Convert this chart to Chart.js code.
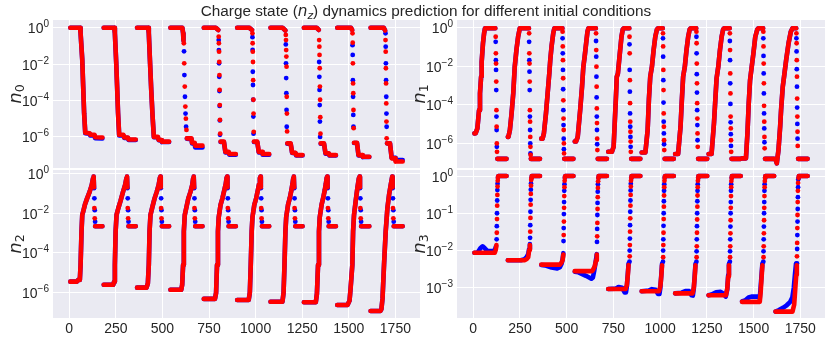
<!DOCTYPE html>
<html>
<head>
<meta charset="utf-8">
<script src="https://cdn.jsdelivr.net/npm/chart.js@4.4.1/dist/chart.umd.min.js"></script>
<style>
  body { margin: 0; width: 830px; height: 340px; background: #fff; position: relative; overflow: hidden;
         font-family: "Liberation Sans", Arial, sans-serif; color: #262626; }
  canvas { position: absolute; z-index: 1; }
  .title { position: absolute; left: 426px; top: 11px; transform: translate(-50%, -50%);
           font-size: 15.3px; white-space: nowrap; z-index: 2; }
  .ylab { position: absolute; transform: translate(-50%, -50%) rotate(-90deg); font-size: 18px;
          white-space: nowrap; font-family: "DejaVu Sans"; z-index: 2; }
  .m { font-family: "DejaVu Sans"; font-style: italic; }
  .sb { font-size: 0.7em; position: relative; top: 0.25em; }
</style>
</head>
<body>
<div class="title">Charge state (<span class="m">n</span><span class="m sb">z</span>) dynamics prediction for different initial conditions</div>
<div class="ylab" style="left:14px;top:94px"><span class="m">n</span><span class="sb">0</span></div>
<div class="ylab" style="left:418px;top:94px"><span class="m">n</span><span class="sb">1</span></div>
<div class="ylab" style="left:14px;top:244px"><span class="m">n</span><span class="sb">2</span></div>
<div class="ylab" style="left:418px;top:244px"><span class="m">n</span><span class="sb">3</span></div>
<canvas id="p0" width="425" height="162" style="left:0;top:10px"></canvas>
<canvas id="p1" width="425" height="162" style="left:405px;top:10px"></canvas>
<canvas id="p2" width="425" height="180" style="left:0;top:160px"></canvas>
<canvas id="p3" width="425" height="180" style="left:405px;top:160px"></canvas>
<script>
// x position where each of the 10 runs starts, every run is [t, value] with t relative to that start
const segStarts = [6, 185, 364, 543, 722, 901, 1080, 1259, 1438, 1617];
const xTicks = [0, 250, 500, 750, 1000, 1250, 1500, 1750];
const yTicksWide = [1, 1e-2, 1e-4, 1e-6];
const yTicksN3 = [1, 1e-1, 1e-2, 1e-3];

// ---- n0 ----
const n0RedPre = [
  [[0,1],[52,1],[55,0.5],[64,0.017],[69,5.8e-4],[74,2e-5],[80,1.7e-6]],
  [[0,1],[57,1],[60,0.5],[67,0.013],[72,5.8e-4],[77,2e-5],[83,1.3e-6]],
  [[0,1],[60,1],[63,0.5],[70,0.01],[76,4e-4],[83,1.5e-5],[90,1e-6]],
  [[0,1],[64,1],[68,0.5],[70,0.2]],
  [[0,1],[64,1],[78,0.75]],
  [[0,1],[64,1],[80,0.75]],
  [[0,1],[64,1],[80,0.7]],
  [[0,1],[68,1],[80,0.75]],
  [[0,1],[73,1],[80,0.75]],
  [[0,1],[70,1],[78,0.7]]
];
const n0RedDots = [
  [], [], [],
  [[72,0.14],[74,0.011],[77,5.8e-4],[80,4.6e-5],[83,1e-5],[86,2.4e-6]],
  [[80,0.32],[81,0.14],[82,0.048],[83,0.013],[84,2.5e-3],[85,3.8e-4],[86,5.6e-5],[87,8.5e-6],[88,1.5e-6]],
  [[82,0.49],[83,0.14],[84,0.048],[85,0.013],[86,1.3e-3],[87,1.1e-4],[88,1.9e-5],[89,1.9e-6]],
  [[82,0.4],[83,0.21],[84,0.059],[85,0.026],[86,7.2e-3],[87,1.6e-4],[88,1.9e-5],[89,2e-6]],
  [[82,0.21],[83,0.091],[84,0.032],[85,5.9e-3],[86,5.8e-4],[87,1.1e-4],[88,1.2e-5],[89,1.5e-6]],
  [[82,0.49],[83,0.15],[84,0.011],[85,8.7e-4],[86,2.5e-4],[87,3e-5],[88,3e-6]],
  [[80,0.21],[81,0.048],[82,5.9e-3],[83,8.7e-4],[84,6.9e-5],[85,6.9e-6],[86,8.3e-7]]
];
const n0RedPost = [
  [[80,1.7e-6],[104,1.6e-6],[107,1.3e-6],[130,1.3e-6],[133,9.5e-7],[172,9.3e-7]],
  [[83,1.3e-6],[106,1.3e-6],[110,9.3e-7],[130,9.3e-7],[133,7.2e-7],[172,7.2e-7]],
  [[90,1e-6],[112,1e-6],[116,6.8e-7],[130,6.8e-7],[133,5.5e-7],[172,5.5e-7]],
  [[88,8.3e-7],[113,8.3e-7],[116,4.8e-7],[130,4.8e-7],[133,3.3e-7],[172,3.3e-7]],
  [[90,5.5e-7],[108,5.5e-7],[116,1.5e-7],[134,1.5e-7],[137,1.15e-7],[172,1.15e-7]],
  [[90,5.5e-7],[108,5.5e-7],[116,1.5e-7],[134,1.5e-7],[137,1.15e-7],[172,1.15e-7]],
  [[90,4.4e-7],[108,4.4e-7],[116,1.35e-7],[134,1.35e-7],[137,1e-7],[172,1e-7]],
  [[90,4.4e-7],[108,4.4e-7],[116,1.26e-7],[134,1.26e-7],[137,1e-7],[172,1e-7]],
  [[90,4.8e-7],[106,4.8e-7],[114,1e-7],[134,1e-7],[137,8.1e-8],[172,8.1e-8]],
  [[88,4.4e-7],[104,4.4e-7],[113,6.6e-8],[131,6.6e-8],[134,4.4e-8],[172,4.4e-8]]
];
const n0BluePre = n0RedPre;
const n0BlueDots = [
  [], [], [],
  [[73,0.05],[75,2.5e-3],[78,1.6e-4],[81,1.9e-5],[84,3.6e-6]],
  [[80,0.21],[81,0.059],[82,0.011],[83,2e-3],[84,3.3e-4],[85,5e-5],[86,8e-6],[87,1.3e-6]],
  [[82,0.3],[83,0.06],[84,3.8e-3],[85,7.1e-4],[86,1.1e-4],[87,1.3e-5],[88,1.5e-6]],
  [[82,0.12],[83,0.011],[84,1.7e-3],[85,2.5e-4],[86,3e-5],[87,3.6e-6]],
  [[82,0.013],[83,2e-3],[84,3.8e-4],[85,5.6e-5],[86,6.9e-6],[87,1e-6]],
  [[82,0.11],[83,0.032],[84,1.3e-3],[85,1.6e-4],[86,1.6e-5],[87,3.6e-6]],
  [[80,0.49],[81,0.091],[82,0.011],[83,1.3e-3],[84,1.6e-4],[85,1.9e-5],[86,3.6e-6]]
];
const n0BluePost = [
  [[80,1.6e-6],[104,1.5e-6],[107,1.2e-6],[130,1.2e-6],[133,8.5e-7],[172,8.3e-7]],
  [[83,1.2e-6],[106,1.2e-6],[110,8.8e-7],[130,8.8e-7],[133,6.8e-7],[172,6.8e-7]],
  [[90,9.5e-7],[112,9.5e-7],[116,6.5e-7],[130,6.5e-7],[133,5.2e-7],[172,5.2e-7]],
  [[88,8e-7],[113,7.5e-7],[116,4.4e-7],[130,4.4e-7],[133,2.6e-7],[172,2.6e-7]],
  [[90,5.2e-7],[108,5.2e-7],[116,1.4e-7],[134,1.4e-7],[137,1.05e-7],[172,1.05e-7]],
  [[90,5.2e-7],[108,5.2e-7],[116,1.4e-7],[134,1.4e-7],[137,1.05e-7],[172,1.05e-7]],
  [[90,4.2e-7],[108,4.2e-7],[116,1.3e-7],[134,1.3e-7],[137,9.5e-8],[172,9.5e-8]],
  [[90,4.2e-7],[108,4.2e-7],[116,1.2e-7],[134,1.2e-7],[137,9.5e-8],[172,9.5e-8]],
  [[90,4.6e-7],[106,4.6e-7],[114,9.5e-8],[134,9.5e-8],[137,7.8e-8],[172,7.8e-8]],
  [[88,4.4e-7],[104,4.4e-7],[113,7e-8],[131,7e-8],[134,5.4e-8],[172,5.4e-8]]
];

// ---- n1 ----
const n1RedPre = [
  [[0,3.2e-6],[7,3.3e-6],[16,5.8e-6],[25,5.2e-5],[30,3.9e-4],[36,2.9e-3],[39,0.017],[46,0.16],[52,0.53],[57,0.97],[112,0.97]],
  [[0,2.1e-6],[3,2.1e-6],[11,4.8e-6],[20,3.5e-5],[29,3.9e-4],[37,9.6e-3],[46,0.071],[55,0.35],[64,0.97],[113,0.97]],
  [[0,1.7e-6],[7,1.7e-6],[14,3.2e-6],[25,3.5e-5],[34,3.9e-4],[43,4.5e-3],[48,0.021],[55,0.11],[64,0.53],[70,0.97],[113,0.97]],
  [[0,1.2e-6],[7,1.2e-6],[16,2.1e-6],[29,5.2e-5],[39,8.7e-4],[46,9.6e-3],[53,0.032],[61,0.16],[68,0.64],[73,0.97],[113,0.97]],
  [[0,3.5e-7],[20,3.5e-7],[29,6.4e-7],[34,7.1e-6],[41,2.1e-4],[46,2.9e-3],[52,4.3e-3],[57,0.014],[64,0.071],[71,0.35],[78,0.85],[84,0.97],[113,0.97]],
  [[0,3.2e-7],[20,3.2e-7],[32,4.8e-6],[39,2.1e-4],[46,2.9e-3],[55,9.6e-3],[64,0.071],[73,0.35],[82,0.85],[88,0.97],[113,0.97]],
  [[0,2.7e-7],[16,2.7e-7],[29,7.1e-6],[36,1.7e-4],[43,2.9e-3],[52,9.6e-3],[61,0.071],[70,0.35],[78,0.85],[84,0.97],[113,0.97]],
  [[0,2.7e-7],[16,2.7e-7],[29,1.1e-5],[36,1.7e-4],[43,2.4e-3],[52,9.6e-3],[61,0.071],[70,0.35],[78,0.85],[84,0.97],[113,0.97]],
  [[0,1.6e-7],[21,1.6e-7],[29,3.2e-6],[36,1.2e-4],[43,1.9e-3],[52,9.6e-3],[61,0.048],[71,0.35],[82,0.85],[88,0.97],[113,0.97]],
  [[0,1.5e-7],[7,8.7e-8],[16,4.3e-7],[25,7.1e-6],[30,5.2e-5],[39,8.7e-4],[46,2.9e-3],[57,0.021],[70,0.16],[82,0.64],[91,0.97],[111,0.97]]
];
const n1RedDots = [
  [[114,0.35],[115,0.048],[116,0.014],[117,1.6e-3],[118,5.2e-5],[119,7.1e-6],[120,9.6e-7],[121,3.5e-7]],
  [[114,0.53],[115,0.048],[116,0.014],[117,1.6e-3],[118,5.2e-5],[119,1.3e-5],[120,2.1e-6],[121,6.4e-7],[122,2.4e-7]],
  [[114,0.64],[115,0.11],[116,0.021],[117,2.4e-3],[118,1.7e-4],[119,1.9e-5],[120,4.8e-6],[121,9.6e-7],[122,2.9e-7]],
  [[114,0.53],[115,0.071],[116,9.6e-3],[117,8.7e-4],[118,6.4e-5],[119,1.1e-5],[120,1.7e-6],[121,4.3e-7]],
  [[114,0.35],[115,0.048],[116,1.9e-3],[117,1.2e-4],[118,1.3e-5],[119,3.9e-6],[120,1.2e-6],[121,3.5e-7]],
  [[114,0.53],[115,0.11],[116,6.5e-3],[117,5.8e-4],[118,3.5e-5],[119,7.1e-6],[120,1.4e-6],[121,4.3e-7]],
  [[114,0.64],[115,0.16],[116,0.014],[117,1.3e-3],[118,1.2e-4],[119,1.9e-5],[120,3.2e-6],[121,6.4e-7]],
  [[114,0.53],[115,0.071],[116,4.3e-3],[117,3.9e-4],[118,2.4e-5],[119,5.8e-6],[120,1.4e-6],[121,3.5e-7]],
  [[114,0.64],[115,0.11],[116,0.014],[117,1.3e-3],[118,8.7e-5],[119,1.3e-5],[120,2.1e-6],[121,5.3e-7]],
  [[112,0.53],[113,0.16],[114,0.021],[115,2.9e-3],[116,2.1e-4],[117,2.4e-5],[118,3.9e-6],[119,7.1e-7]]
];
const n1RedPost = [
  [[123,1.5e-7],[172,1.5e-7]], [[123,1.5e-7],[172,1.5e-7]], [[123,1.5e-7],[172,1.5e-7]],
  [[123,1.5e-7],[172,1.5e-7]], [[123,1.5e-7],[172,1.5e-7]], [[123,1.5e-7],[172,1.5e-7]],
  [[123,1.5e-7],[172,1.5e-7]], [[123,1.5e-7],[172,1.5e-7]], [[123,1.5e-7],[172,1.5e-7]],
  [[121,1.5e-7],[172,1.5e-7]]
];
const n1BluePre = n1RedPre;
const n1BlueDots = [
  [[114,0.19],[115,0.021],[116,6.5e-3],[117,5.8e-4],[118,2.4e-5],[119,4.8e-6],[120,6.4e-7]],
  [[114,0.19],[115,0.021],[116,5.3e-3],[117,5.8e-4],[118,2.4e-5],[119,4.8e-6],[120,9.6e-7],[121,2.9e-7]],
  [[114,0.29],[115,0.048],[116,6.5e-3],[117,6.4e-4],[118,5.2e-5],[119,8.7e-6],[120,1.7e-6],[121,4.8e-7]],
  [[114,0.21],[115,0.032],[116,2.9e-3],[117,2.4e-4],[118,2.4e-5],[119,4.8e-6],[120,8.7e-7]],
  [[114,0.14],[115,6.5e-3],[116,4.8e-4],[117,3.5e-5],[118,7.1e-6],[119,2.1e-6],[120,6.4e-7]],
  [[114,0.29],[115,0.032],[116,1.9e-3],[117,1.3e-4],[118,1.3e-5],[119,3.2e-6],[120,8.7e-7]],
  [[114,0.35],[115,0.048],[116,3.9e-3],[117,4.3e-4],[118,5.2e-5],[119,8.7e-6],[120,1.4e-6]],
  [[114,0.21],[115,0.021],[116,1.3e-3],[117,1.1e-4],[118,1.2e-5],[119,2.9e-6],[120,7.1e-7]],
  [[114,0.29],[115,0.035],[116,4.3e-3],[117,3.9e-4],[118,3.5e-5],[119,5.8e-6],[120,1.1e-6]],
  [[112,0.29],[113,0.06],[114,7.1e-3],[115,8.7e-4],[116,7.1e-5],[117,1e-5],[118,1.7e-6]]
];
const n1BluePost = n1RedPost;

// ---- n2 ----
const n2RedPre = [
  [[0,3.6e-6],[34,3.6e-6],[42,4.4e-6],[51,4.4e-6],[55,2.5e-5],[60,1.2e-3],[64,8.1e-3],[69,0.012],[78,0.026],[90,0.055],[104,0.12],[115,0.26],[122,0.56],[125,0.68],[127,0.2]],
  [[0,2.5e-6],[51,2.5e-6],[56,3.6e-6],[60,2.5e-5],[64,1.2e-3],[69,8.1e-3],[78,0.017],[90,0.04],[104,0.12],[115,0.26],[122,0.56],[125,0.68],[127,0.2]],
  [[0,1.8e-6],[51,1.8e-6],[58,3e-6],[63,2.5e-5],[67,1.2e-3],[72,8.1e-3],[82,0.02],[94,0.055],[106,0.12],[116,0.26],[122,0.56],[125,0.68],[127,0.2]],
  [[0,1.4e-6],[58,1.4e-6],[63,2.5e-6],[68,2.5e-5],[72,1.2e-3],[77,8.1e-3],[86,0.02],[96,0.055],[108,0.12],[117,0.26],[122,0.56],[125,0.68],[127,0.2]],
  [[0,4.9e-7],[60,4.9e-7],[66,1e-6],[71,2.5e-5],[76,1.2e-3],[80,6e-3],[90,0.026],[100,0.055],[110,0.14],[118,0.3],[122,0.56],[125,0.68],[127,0.2]],
  [[0,4.3e-7],[62,4.3e-7],[68,1e-6],[73,2.5e-5],[78,1.2e-3],[82,6e-3],[92,0.026],[102,0.055],[111,0.14],[118,0.3],[122,0.56],[125,0.68],[127,0.2]],
  [[0,3.5e-7],[64,3.5e-7],[70,1e-6],[75,2.5e-5],[80,1.2e-3],[84,6e-3],[94,0.026],[104,0.06],[112,0.14],[118,0.3],[122,0.56],[125,0.68],[127,0.2]],
  [[0,3.3e-7],[64,3.3e-7],[70,9e-7],[76,2.5e-5],[81,1.2e-3],[85,6e-3],[95,0.026],[104,0.06],[112,0.14],[118,0.3],[122,0.56],[125,0.68],[127,0.2]],
  [[0,2.4e-7],[55,2.4e-7],[66,4e-7],[72,1.8e-6],[81,2.5e-5],[85,1.2e-3],[90,8.1e-3],[99,0.04],[108,0.18],[116,0.56],[120,0.68],[122,0.2]],
  [[0,1.2e-7],[52,1.2e-7],[58,1.5e-7],[64,5.2e-7],[72,2.5e-5],[81,1.2e-3],[90,0.017],[99,0.082],[108,0.26],[116,0.68],[118,0.2]]
];
const n2RedDots = [
  [[129,0.018],[131,5.5e-3]], [[129,0.018],[131,5.5e-3]], [[129,0.018],[131,5.5e-3]],
  [[129,0.018],[131,5.5e-3]], [[129,0.018],[131,5.5e-3]], [[129,0.018],[131,5.5e-3]],
  [[129,0.018],[131,5.5e-3]], [[129,0.018],[131,5.5e-3]], [[124,0.018],[126,5.5e-3]],
  [[120,0.018],[122,5.5e-3]]
];
const n2RedPost = [
  [[133,2.2e-3],[172,2.2e-3]], [[133,2.2e-3],[172,2.2e-3]], [[133,2.2e-3],[172,2.2e-3]],
  [[133,2.2e-3],[172,2.2e-3]], [[133,2.2e-3],[172,2.2e-3]], [[133,2.2e-3],[172,2.2e-3]],
  [[133,2.2e-3],[172,2.2e-3]], [[133,2.2e-3],[172,2.2e-3]], [[128,2.2e-3],[172,2.2e-3]],
  [[124,2.2e-3],[172,2.2e-3]]
];
const n2BluePre = n2RedPre;
const n2BlueDots = [
  [[127,0.18],[129,0.055],[131,0.014],[133,3.7e-3]], [[127,0.18],[129,0.055],[131,0.014],[133,3.7e-3]],
  [[127,0.18],[129,0.055],[131,0.014],[133,3.7e-3]], [[127,0.18],[129,0.055],[131,0.014],[133,3.7e-3]],
  [[127,0.18],[129,0.055],[131,0.014],[133,3.7e-3]], [[127,0.18],[129,0.055],[131,0.014],[133,3.7e-3]],
  [[127,0.18],[129,0.055],[131,0.014],[133,3.7e-3]], [[127,0.18],[129,0.055],[131,0.014],[133,3.7e-3]],
  [[122,0.18],[124,0.055],[126,0.014],[128,3.7e-3]], [[118,0.18],[120,0.055],[122,0.014],[124,3.7e-3]]
];
const n2BluePost = n2RedPost;

// ---- n3 ----
const n3RedPre = [
  [[0,8.7e-3],[109,8.7e-3],[114,0.0103],[118,0.014]],
  [[0,5.5e-3],[91,5.5e-3],[100,5.9e-3],[109,6.6e-3],[114,0.0103],[118,0.014]],
  [[0,4.2e-3],[100,4.2e-3],[109,4.8e-3],[114,5.5e-3],[118,7.8e-3]],
  [[0,2.8e-3],[93,2.8e-3],[100,3.2e-3],[107,3.8e-3],[114,5.5e-3],[118,7.8e-3]],
  [[0,9.3e-4],[93,9.3e-4],[100,1.2e-3],[105,2.2e-3],[109,4.1e-3]],
  [[0,8.1e-4],[93,8.1e-4],[100,1.1e-3],[105,2e-3],[109,4e-3]],
  [[0,7.1e-4],[93,7.1e-4],[100,1e-3],[105,2e-3],[109,4e-3]],
  [[0,6.3e-4],[93,6.3e-4],[100,9.5e-4],[105,2e-3],[109,4e-3]],
  [[0,4.2e-4],[95,4.2e-4],[100,8e-4],[105,2e-3],[109,4e-3]],
  [[0,2.3e-4],[91,2.3e-4],[100,3.5e-4],[105,8.1e-4],[111,2.2e-3],[114,4e-3]]
];
const n3RedDots = [
  [[120,0.03],[121,0.07],[122,0.16],[123,0.31],[124,0.52],[125,0.75]],
  [[120,0.032],[121,0.075],[122,0.17],[123,0.33],[124,0.55],[125,0.78]],
  [[120,0.026],[121,0.06],[122,0.14],[123,0.29],[124,0.5],[125,0.74]],
  [[120,0.024],[121,0.055],[122,0.13],[123,0.27],[124,0.48],[125,0.72]],
  [[115,7e-3],[116,0.014],[117,0.032],[118,0.073],[119,0.16],[120,0.31],[121,0.52],[122,0.75]],
  [[115,6.6e-3],[116,0.014],[117,0.03],[118,0.07],[119,0.15],[120,0.3],[121,0.5],[122,0.74]],
  [[115,6.6e-3],[116,0.013],[117,0.03],[118,0.068],[119,0.15],[120,0.3],[121,0.5],[122,0.74]],
  [[115,6.6e-3],[116,0.013],[117,0.029],[118,0.065],[119,0.14],[120,0.29],[121,0.5],[122,0.73]],
  [[115,6.6e-3],[116,0.013],[117,0.029],[118,0.065],[119,0.14],[120,0.29],[121,0.5],[122,0.73]],
  [[115,7e-3],[116,0.016],[117,0.04],[118,0.09],[119,0.2],[120,0.4],[121,0.65]]
];
const n3RedPost = [
  [[126,0.9],[128,1],[172,1]], [[126,0.9],[128,1],[172,1]], [[126,0.9],[128,1],[172,1]],
  [[126,0.9],[128,1],[172,1]], [[123,0.9],[125,1],[172,1]], [[123,0.9],[125,1],[172,1]],
  [[123,0.9],[125,1],[172,1]], [[123,0.9],[125,1],[172,1]], [[123,0.9],[125,1],[172,1]],
  [[123,0.9],[125,1],[172,1]]
];
const n3BluePre = [
  [[0,8.7e-3],[18,8.9e-3],[32,0.0115],[44,0.013],[56,0.0115],[71,9.7e-3],[100,9.7e-3],[110,0.0105],[116,0.013]],
  [[0,5.5e-3],[70,5.5e-3],[90,5.9e-3],[100,6.6e-3],[109,8e-3],[114,0.011],[118,0.015]],
  [[0,4.1e-3],[20,4e-3],[55,3.5e-3],[85,3.3e-3],[100,3.6e-3],[109,4.5e-3],[114,5.8e-3],[118,8.5e-3]],
  [[0,2.7e-3],[20,2.6e-3],[60,2.1e-3],[89,1.75e-3],[97,1.9e-3],[104,2.8e-3],[112,5e-3],[118,8e-3]],
  [[0,9.3e-4],[40,9.5e-4],[55,1.05e-3],[75,1e-3],[88,7.5e-4],[95,7.5e-4],[100,1.1e-3],[105,2.4e-3],[109,4.5e-3]],
  [[0,8.1e-4],[40,8.5e-4],[55,9.2e-4],[75,8.8e-4],[88,6.8e-4],[95,6.8e-4],[100,1e-3],[105,2.2e-3],[109,4.4e-3]],
  [[0,7.1e-4],[35,7.4e-4],[55,8.2e-4],[75,8.2e-4],[88,6.3e-4],[95,6.2e-4],[100,9.5e-4],[105,2.2e-3],[109,4.4e-3]],
  [[0,6.3e-4],[16,6.6e-4],[40,7.6e-4],[65,7.8e-4],[80,7e-4],[92,5.8e-4],[100,9e-4],[105,2.2e-3],[109,4.4e-3]],
  [[0,4.3e-4],[20,4.7e-4],[35,5.5e-4],[50,5.8e-4],[85,5.8e-4],[95,5.2e-4],[100,1.1e-3],[105,2.4e-3],[109,4.5e-3]],
  [[0,2.3e-4],[16,2.5e-4],[40,2.9e-4],[60,3.4e-4],[79,4.2e-4],[90,5.5e-4],[98,1e-3],[104,2.2e-3],[110,4.5e-3]]
];
const n3BlueDots = [
  [[119,0.02],[120,0.045],[121,0.1],[122,0.22],[123,0.42],[124,0.62]],
  [[119,0.022],[120,0.048],[121,0.11],[122,0.23],[123,0.43],[124,0.63]],
  [[119,0.018],[120,0.04],[121,0.095],[122,0.2],[123,0.4],[124,0.6]],
  [[119,0.017],[120,0.038],[121,0.09],[122,0.19],[123,0.38],[124,0.6]],
  [[114,5e-3],[115,0.01],[116,0.021],[117,0.048],[118,0.11],[119,0.22],[120,0.41],[121,0.62]],
  [[114,5e-3],[115,0.01],[116,0.02],[117,0.046],[118,0.1],[119,0.21],[120,0.4],[121,0.6]],
  [[114,5e-3],[115,9.5e-3],[116,0.02],[117,0.045],[118,0.1],[119,0.21],[120,0.4],[121,0.6]],
  [[114,5e-3],[115,9.5e-3],[116,0.02],[117,0.044],[118,0.1],[119,0.2],[120,0.4],[121,0.6]],
  [[114,5e-3],[115,9.5e-3],[116,0.02],[117,0.044],[118,0.1],[119,0.2],[120,0.4],[121,0.6]],
  [[115,4.5e-3],[116,0.011],[117,0.026],[118,0.06],[119,0.13],[120,0.27],[121,0.5],[122,0.8]]
];
const n3BluePost = n3RedPost;

const RED = "rgb(255,0,0)";
const BLUE = "rgb(0,0,255)";
const TEXT = "#262626";

function toPoints(segs, breaks) {
  let pts = [];
  segs.forEach((seg, k) => {
    seg.forEach(([t, v]) => pts.push({ x: segStarts[k] + t, y: v }));
    if (breaks && seg.length) pts.push({ x: segStarts[k] + seg[seg.length - 1][0], y: null });
  });
  return pts;
}

function lineSet(pre, post, color) {
  return {
    data: toPoints(pre, true).concat(toPoints(post, true)),
    borderColor: color, borderWidth: 4.6, pointRadius: 0, spanGaps: false,
    borderCapStyle: "round", borderJoinStyle: "round", tension: 0, fill: false,
  };
}

function dotSet(dots, color) {
  return {
    data: toPoints(dots, false), showLine: false,
    pointRadius: 2.4, pointBorderWidth: 0, pointBackgroundColor: color, borderColor: color,
  };
}

// grey axes face like the seaborn darkgrid style
const panelBg = {
  id: "panelBg",
  beforeDraw(chart) {
    const { ctx, chartArea: a } = chart;
    ctx.save();
    ctx.fillStyle = "#EAEAF2";
    ctx.fillRect(a.left, a.top, a.right - a.left, a.bottom - a.top);
    ctx.restore();
  },
};

// 10^k labels with a raised exponent
const expLabels = {
  id: "expLabels",
  afterDraw(chart) {
    const s = chart.scales.y, ctx = chart.ctx;
    ctx.save();
    ctx.fillStyle = TEXT;
    ctx.textBaseline = "alphabetic";
    s.ticks.forEach((tk) => {
      const y = s.getPixelForValue(tk.value);
      const e = Math.round(Math.log10(tk.value));
      const sup = e < 0 ? "\u2212" + -e : String(e);
      const xr = chart.chartArea.left - 4;
      ctx.font = '10px "Liberation Sans"';
      const sw = ctx.measureText(sup).width;
      ctx.textAlign = "left";
      ctx.fillText(sup, xr - sw, y - 0.5);
      ctx.font = '14px "Liberation Sans"';
      ctx.textAlign = "right";
      ctx.fillText("10", xr - sw, y + 5.5);
    });
    ctx.restore();
  },
};

function makePanel(id, p) {
  const datasets = [
    dotSet(p.redDots, RED), lineSet(p.redPre, p.redPost, RED),
    dotSet(p.blueDots, BLUE), lineSet(p.bluePre, p.bluePost, BLUE),
  ];
  new Chart(document.getElementById(id), {
    type: "line",
    data: { datasets },
    options: {
      responsive: false, animation: false, events: [], devicePixelRatio: 1,
      layout: { padding: p.padding },
      plugins: { legend: { display: false }, tooltip: { enabled: false } },
      scales: {
        x: {
          type: "linear", min: -87, max: 1882,
          afterBuildTicks: (s) => { s.ticks = xTicks.map((v) => ({ value: v })); },
          afterFit: (s) => { s.height = p.xHeight; },
          grid: { color: "#ffffff", lineWidth: 1, drawTicks: false },
          border: { display: false },
          ticks: {
            display: p.xLabels, padding: 3, color: TEXT, maxRotation: 0, autoSkip: false,
            font: { family: "Liberation Sans", size: 14 },
            callback: (v) => String(v),
          },
        },
        y: {
          type: "logarithmic", min: Math.pow(10, p.yLog[0]), max: Math.pow(10, p.yLog[1]),
          afterBuildTicks: (s) => { s.ticks = p.yTicks.map((v) => ({ value: v })); },
          afterFit: (s) => { s.width = p.yWidth; },
          grid: { color: "#ffffff", lineWidth: 1, drawTicks: false },
          border: { display: false },
          ticks: { display: false },
        },
      },
    },
    plugins: [panelBg, expLabels],
  });
}

makePanel("p0", {
  redPre: n0RedPre, redDots: n0RedDots, redPost: n0RedPost,
  bluePre: n0BluePre, blueDots: n0BlueDots, bluePost: n0BluePost,
  yLog: [-7.71, 0.423], yTicks: yTicksWide, yWidth: 53, xHeight: 0, xLabels: false,
  padding: { top: 10, right: 5, bottom: 4, left: 0 },
});
makePanel("p1", {
  redPre: n1RedPre, redDots: n1RedDots, redPost: n1RedPost,
  bluePre: n1BluePre, blueDots: n1BlueDots, bluePost: n1BluePost,
  yLog: [-7.30, 0.417], yTicks: yTicksWide, yWidth: 52, xHeight: 0, xLabels: false,
  padding: { top: 10, right: 5, bottom: 4, left: 0 },
});
makePanel("p2", {
  redPre: n2RedPre, redDots: n2RedDots, redPost: n2RedPost,
  bluePre: n2BluePre, blueDots: n2BlueDots, bluePost: n2BluePost,
  yLog: [-7.27, 0.166], yTicks: yTicksWide, yWidth: 53, xHeight: 22, xLabels: true,
  padding: { top: 10, right: 5, bottom: 0, left: 0 },
});
makePanel("p3", {
  redPre: n3RedPre, redDots: n3RedDots, redPost: n3RedPost,
  bluePre: n3BluePre, blueDots: n3BlueDots, bluePost: n3BluePost,
  yLog: [-3.81, 0.161], yTicks: yTicksN3, yWidth: 52, xHeight: 22, xLabels: true,
  padding: { top: 10, right: 5, bottom: 0, left: 0 },
});
</script>
</body>
</html>
